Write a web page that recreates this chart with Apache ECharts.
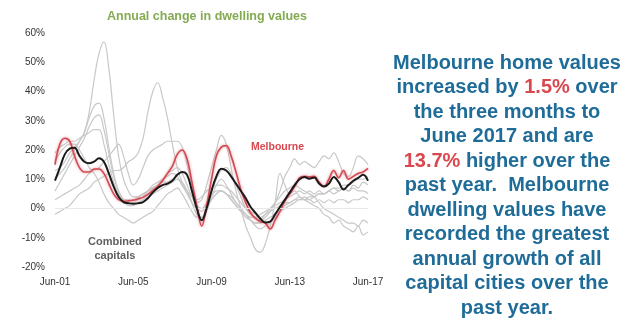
<!DOCTYPE html>
<html>
<head>
<meta charset="utf-8">
<script src="https://cdn.jsdelivr.net/npm/echarts@6/dist/echarts.min.js"></script>
<style>
  html, body { margin: 0; padding: 0; background: #ffffff; }
  #chart { width: 640px; height: 328px; }
</style>
</head>
<body>
<div id="chart"></div>
<script>
// Quarterly periods, Jun-01 through Jun-17
const quarterMonths = ['Jun', 'Sep', 'Dec', 'Mar'];
const firstYear = 2001;

// Tick values for the percentage axis
const yTicks = { min: -20, max: 60, step: 10 };

// Combined capitals, annual change (%)
const combinedCapitals = [
  9.5, 14, 18.5, 20.5, 20.8, 18, 16, 15.5, 16, 17.2, 16, 12, 7.5, 4, 2.2, 1.8,
  1.6, 1.8, 2.2, 3.5, 5.5, 7, 8, 8.5, 9.5, 11.5, 12.5, 11.5, 6, 0, -4, 0,
  6, 11, 13.6, 13, 11, 8.5, 6, 3.5, 0.5, -1.5, -3.5, -4.8, -4.5, -2, 0.5, 3,
  5.5, 8, 10, 10.8, 10.2, 10.6, 8.5, 7.5, 8.5, 10.8, 9, 6.5, 8, 9.5, 10.5, 11.5,
  9.5
];

// Melbourne, annual change (%)
const melbourne = [
  15, 22, 24, 23, 18, 14, 12.5, 12.5, 13.5, 13.5, 12, 8.5, 5, 3, 2.5, 2.6,
  2.8, 3.3, 3.8, 4.8, 6.2, 7.5, 9.5, 12, 14.5, 18.5, 20, 17, 9, 1, -6, 1,
  10, 18, 21, 21.5, 18, 12.5, 6.5, 2, -1.5, -3.4, -4.5, -5, -7, -4, -1, 2.5,
  5, 7.5, 10.5, 11, 10.8, 11, 9, 7.5, 10, 13, 10.5, 13, 10, 11, 12, 12.5,
  13.7
];

// Other capital cities, annual change (%)
const cityA = [
  13, 14, 16, 19, 21, 23, 26, 33, 44, 53, 57, 48, 32, 18, 10, 6,
  4, 4, 5, 6, 7, 8, 10, 12, 13, 14, 12, 8, 4, 1, 0, 2,
  4, 6, 6, 5, 3, 1, -1, -3, -4, -5, -5, -4, -3, -2, -1, 0,
  1, 2, 3, 3, 4, 4, 5, 5, 6, 7, 7, 8, 8, 9, 10, 10,
  11
];
const cityB = [
  10, 12, 14, 17, 20, 23, 26, 31, 35, 36, 31, 21, 12, 6, 3, 1,
  1, 2, 3, 4, 5, 6, 7, 8, 9, 10, 9, 6, 2, -2, -3, 0,
  3, 5, 6, 5, 4, 2, 0, -2, -4, -6, -7, -6, -5, -3, -1, 1,
  2, 3, 4, 3, 3, 2, 3, 2, 3, 2, 3, 3, 2, 3, 3, 4,
  3
];
const cityC = [
  6, 9, 12, 15, 18, 21, 24, 28, 31, 32, 27, 19, 11, 6, 3, 2,
  2, 3, 4, 6, 8, 9, 10, 11, 12, 11, 8, 5, 2, 0, -1, 1,
  3, 5, 6, 5, 3, 1, -1, -2, -3, -3, -2, -1, 0, 1, 2, 3,
  4, 5, 6, 5, 6, 5, 6, 5, 6, 7, 6, 7, 6, 7, 6, 6,
  5
];
const cityD = [
  19, 21, 22, 23, 23, 24, 25, 26, 27, 27, 22, 15, 9, 5, 3, 3,
  3, 4, 5, 6, 7, 8, 9, 9, 10, 10, 8, 6, 4, 3, 4, 6,
  7, 8, 8, 7, 6, 4, 2, 0, -1, -2, -3, -2, -1, 0, 1, 2,
  2, 3, 3, 4, 3, 4, 5, 5, 6, 5, 6, 7, 6, 8, 7, 9,
  8
];
const cityE = [
  16, 19, 21, 22, 22, 20, 17, 14, 12, 9, 5, 2, 0, -2, -3, -4,
  -5, -4, -3, -2, -1, 1, 3, 5, 6, 7, 5, 2, -1, -3, -3, 1,
  6, 10, 13, 14, 12, 8, 4, 0, -2, -3, -4, -3, -1, 2, 6, 11,
  14, 17, 15, 16, 15, 14, 16, 18, 17, 19, 16, 12, 11, 14, 18, 17,
  15
];
const cityF = [
  -2, -1, 0, 1, 3, 5, 6, 7, 9, 10, 11, 12, 13, 13, 14, 16,
  17, 19, 24, 33, 40, 43, 38, 31, 22, 14, 9, 6, 2, -2, -4, -1,
  4, 8, 10, 8, 5, 2, 0, -2, -4, -5, -4, -2, 0, 2, 4, 6,
  7, 8, 7, 6, 5, 4, 2, 0, -1, -2, -3, -4, -5, -5, -6, -4,
  -5
];
const cityG = [
  3, 4, 5, 6, 7, 8, 10, 12, 13, 14, 16, 18, 20, 22, 18, 12,
  8, 10, 14, 18, 20, 21, 22, 23, 23, 23, 21, 15, 8, 2, 3, 8,
  14, 20, 25, 22, 14, 6, 0, -6, -10, -14, -15, -12, -6, 2, 12, 8,
  5, 6, 4, 3, 2, 1, 0, -2, -3, -5, -4, -6, -7, -8, -6, -9,
  -8
];
const otherCities = [cityA, cityB, cityC, cityD, cityE, cityF, cityG];

// Headline figures quoted in the commentary
const quarterChange = '1.5%';
const annualChange = '13.7%';

// Category labels: Jun-01, Sep-01, Dec-01, Mar-02, ...
const categories = [];
for (let i = 0; i < combinedCapitals.length; i++) {
  const q = i % 4;
  const y = firstYear + Math.floor(i / 4) + (q === 3 ? 1 : 0);
  categories.push(quarterMonths[q] + '-' + String(y).slice(2));
}

const chart = echarts.init(document.getElementById('chart'), null, { renderer: 'canvas' });

const greySeries = otherCities.map(function (vals, i) {
  return {
    name: 'city' + i,
    type: 'line',
    data: vals,
    smooth: 0.4,
    symbol: 'none',
    silent: true,
    z: 2,
    lineStyle: { color: '#c8c8c8', width: 1.2 }
  };
});

const commentary = [
  '{b|Melbourne home values}',
  '{b|increased by }{r|' + quarterChange + '}{b| over}',
  '{b|the three months to}',
  '{b|June 2017 and are}',
  '{r|' + annualChange + '}{b| higher over the}',
  '{b|past year.  Melbourne}',
  '{b|dwelling values have}',
  '{b|recorded the greatest}',
  '{b|annual growth of all}',
  '{b|capital cities over the}',
  '{b|past year.}'
].join('\n');

const font = '"Liberation Sans", Arial, sans-serif';

chart.setOption({
  animation: false,
  backgroundColor: '#ffffff',
  textStyle: { fontFamily: font },
  title: [
    {
      text: 'Annual change in dwelling values',
      left: 207, top: 10, textAlign: 'center', padding: 0,
      textStyle: { color: '#84ab52', fontSize: 12.5, fontWeight: 'bold', fontFamily: font }
    },
    {
      text: commentary,
      left: 507, top: 51, textAlign: 'center', padding: 0,
      textStyle: {
        fontFamily: font,
        rich: {
          b: { color: '#1f6c98', fontSize: 20, fontWeight: 'bold', lineHeight: 24.5, fontFamily: font },
          r: { color: '#d9474f', fontSize: 20, fontWeight: 'bold', lineHeight: 24.5, fontFamily: font }
        }
      }
    }
  ],
  grid: { left: 55, right: 272, top: 33, bottom: 61 },
  xAxis: {
    type: 'category',
    data: categories,
    boundaryGap: false,
    axisLine: { show: false },
    axisTick: { show: false },
    axisLabel: { interval: 15, color: '#333', fontSize: 10, margin: 10, fontFamily: font }
  },
  yAxis: {
    type: 'value',
    min: yTicks.min, max: yTicks.max, interval: yTicks.step,
    axisLine: { show: false },
    axisTick: { show: false },
    splitLine: { show: false },
    axisLabel: { formatter: '{value}%', color: '#333', fontSize: 10, margin: 10, fontFamily: font }
  },
  graphic: [
    {
      type: 'text', left: 251, top: 142, silent: true,
      style: { text: 'Melbourne', fill: '#d9474f', font: 'bold 10.5px ' + font }
    },
    {
      type: 'text', left: 88, top: 235, silent: true,
      style: {
        text: 'Combined\ncapitals', fill: '#606060', font: 'bold 11px ' + font,
        textAlign: 'center', lineHeight: 14
      }
    }
  ],
  series: greySeries.concat([
    {
      name: 'Melbourne',
      type: 'line',
      data: melbourne,
      smooth: 0.4,
      symbol: 'none',
      z: 4,
      lineStyle: { color: '#d24a52', width: 1.6, shadowColor: 'rgba(225,120,130,0.8)', shadowBlur: 3 },
      markLine: {
        silent: true, symbol: 'none', label: { show: false },
        lineStyle: { color: '#e8e8e8', width: 1, type: 'solid' },
        data: [{ yAxis: 0 }]
      }
    },
    {
      name: 'Combined capitals',
      type: 'line',
      data: combinedCapitals,
      smooth: 0.4,
      symbol: 'none',
      z: 5,
      lineStyle: { color: '#1a1a1a', width: 2 }
    }
  ])
});
</script>
</body>
</html>
